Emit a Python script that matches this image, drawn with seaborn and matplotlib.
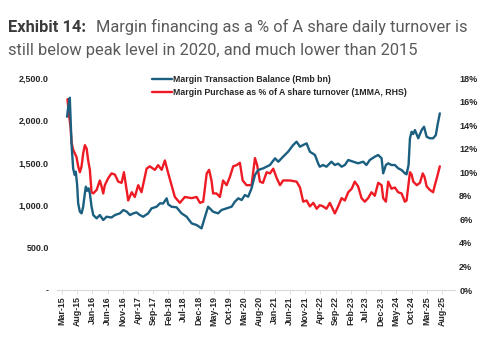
import matplotlib
matplotlib.use("Agg")
import matplotlib.pyplot as plt
import seaborn as sns
import pandas as pd

# Margin transaction balance (Rmb bn, left axis)
balance_dates = [
    "2015-04-23", "2015-05-07", "2015-05-20", "2015-06-07", "2015-06-23", "2015-07-09",
    "2015-07-19", "2015-08-01", "2015-08-12", "2015-08-29", "2015-09-15", "2015-10-01",
    "2015-10-18", "2015-10-28", "2015-11-10", "2015-11-24", "2015-12-07", "2015-12-24",
    "2016-01-10", "2016-02-13", "2016-03-16", "2016-04-19", "2016-05-22", "2016-07-11",
    "2016-08-14", "2016-10-03", "2016-11-06", "2016-12-09", "2017-01-12", "2017-02-14",
    "2017-03-18", "2017-04-21", "2017-05-23", "2017-07-13", "2017-08-16", "2017-10-05",
    "2017-11-08", "2017-12-10", "2018-01-14", "2018-01-30", "2018-03-04", "2018-04-23",
    "2018-06-12", "2018-08-02", "2018-09-21", "2018-11-10", "2018-12-29", "2019-02-02",
    "2019-03-05", "2019-04-24", "2019-06-13", "2019-07-17", "2019-09-06", "2019-10-26",
    "2019-11-28", "2020-01-01", "2020-02-04", "2020-03-07", "2020-04-09", "2020-05-13",
    "2020-06-16", "2020-07-18", "2020-09-07", "2020-11-13", "2021-01-03", "2021-02-05",
    "2021-03-25", "2021-05-14", "2021-07-04", "2021-08-07", "2021-09-10", "2021-10-12",
    "2021-11-15", "2021-12-18", "2022-02-07", "2022-03-10", "2022-03-27", "2022-04-29",
    "2022-06-02", "2022-07-22", "2022-08-25", "2022-09-27", "2022-11-01", "2022-12-03",
    "2023-01-06", "2023-02-25", "2023-04-15", "2023-06-04", "2023-07-07", "2023-08-10",
    "2023-09-29", "2023-11-02", "2023-12-06", "2023-12-22", "2024-01-18", "2024-02-10",
    "2024-03-14", "2024-04-17", "2024-05-20", "2024-06-23", "2024-07-26", "2024-08-12",
    "2024-09-01", "2024-09-15", "2024-10-02", "2024-10-18", "2024-11-04", "2024-12-07",
    "2025-01-10", "2025-02-03", "2025-03-01", "2025-04-02", "2025-05-05", "2025-06-01",
    "2025-06-18", "2025-07-11",
]
balance_bn = [
    2043, 2180, 2267, 1710, 1430, 1356,
    1395, 1250, 1022, 923, 904, 982,
    1140, 1218, 1170, 1199, 1140, 982,
    884, 845, 884, 825, 864, 855,
    884, 904, 943, 925, 884, 904,
    915, 884, 864, 904, 963, 982,
    1022, 1020, 1081, 1010, 982, 975,
    904, 864, 786, 766, 727, 864,
    982, 923, 904, 943, 963, 982,
    1041, 1081, 1061, 1120, 1100, 1199,
    1356, 1415, 1435, 1474, 1553, 1513,
    1572, 1631, 1710, 1749, 1690, 1710,
    1729, 1631, 1592, 1494, 1454, 1474,
    1454, 1513, 1474, 1490, 1454, 1474,
    1533, 1513, 1494, 1513, 1474, 1533,
    1572, 1592, 1553, 1376, 1474, 1494,
    1474, 1474, 1435, 1415, 1376, 1364,
    1474, 1789, 1866, 1840, 1886, 1789,
    1886, 1925, 1807, 1789, 1789, 1827,
    1945, 2083,
]

# Margin purchase as % of A share turnover (1MMA, right axis)
purchase_dates = [
    "2015-04-27", "2015-05-10", "2015-05-27", "2015-06-07", "2015-06-23", "2015-07-09",
    "2015-07-26", "2015-08-12", "2015-08-29", "2015-09-15", "2015-10-01", "2015-10-18",
    "2015-11-05", "2015-11-20", "2015-12-07", "2015-12-24", "2016-01-10", "2016-02-13",
    "2016-03-16", "2016-04-02", "2016-04-19", "2016-05-05", "2016-06-08", "2016-07-11",
    "2016-08-14", "2016-09-16", "2016-10-20", "2016-11-12", "2016-12-02", "2016-12-25",
    "2017-01-29", "2017-03-01", "2017-04-04", "2017-05-07", "2017-06-27", "2017-07-29",
    "2017-09-18", "2017-10-21", "2017-11-25", "2017-12-27", "2018-01-30", "2018-03-04",
    "2018-04-06", "2018-05-26", "2018-07-15", "2018-09-21", "2018-11-10", "2018-12-13",
    "2019-01-15", "2019-02-19", "2019-03-15", "2019-04-08", "2019-04-24", "2019-05-28",
    "2019-07-01", "2019-08-02", "2019-09-06", "2019-10-09", "2019-11-11", "2019-12-15",
    "2020-01-17", "2020-02-14", "2020-03-24", "2020-05-13", "2020-06-16", "2020-07-08",
    "2020-08-05", "2020-09-04", "2020-10-11", "2020-11-13", "2020-12-16", "2021-01-20",
    "2021-02-22", "2021-03-25", "2021-06-01", "2021-08-07", "2021-09-10", "2021-10-12",
    "2021-11-15", "2021-12-18", "2022-01-21", "2022-02-24", "2022-03-27", "2022-04-29",
    "2022-06-02", "2022-07-06", "2022-08-08", "2022-08-25", "2022-09-27", "2022-11-01",
    "2022-12-03", "2023-01-06", "2023-02-10", "2023-03-12", "2023-04-15", "2023-05-19",
    "2023-06-21", "2023-07-24", "2023-08-27", "2023-09-29", "2023-11-02", "2023-12-06",
    "2023-12-22", "2024-01-18", "2024-02-10", "2024-03-14", "2024-04-17", "2024-05-20",
    "2024-06-23", "2024-07-26", "2024-08-12", "2024-09-15", "2024-10-02", "2024-10-18",
    "2024-11-22", "2024-12-24", "2025-01-21", "2025-02-08", "2025-03-01", "2025-04-02",
    "2025-05-05", "2025-05-22", "2025-06-14", "2025-07-11",
]
purchase_pct = [
    16.2, 15.0, 13.9, 12.5, 11.9, 11.6,
    11.3, 10.5, 10.0, 10.5, 11.6, 12.3,
    12.0, 11.0, 10.2, 8.3, 8.2, 8.5,
    9.3, 8.8, 8.2, 8.9, 9.5, 9.9,
    9.8, 9.2, 9.1, 10.0, 8.9, 7.6,
    8.3, 7.9, 8.9, 8.3, 10.3, 10.5,
    10.2, 10.6, 10.2, 11.0, 9.9, 8.9,
    7.9, 7.4, 7.9, 7.8, 7.9, 7.4,
    7.5, 9.9, 10.2, 9.3, 8.2, 8.2,
    7.9, 9.3, 8.9, 9.6, 10.5, 10.6,
    10.8, 9.3, 8.9, 8.9, 11.2, 10.6,
    9.2, 9.1, 10.0, 9.9, 10.3, 9.5,
    8.9, 9.3, 9.3, 9.2, 8.7, 7.5,
    7.6, 7.1, 7.4, 6.9, 7.2, 7.1,
    6.9, 7.4, 6.8, 6.5, 7.1, 7.8,
    7.6, 8.3, 8.6, 9.2, 8.8, 7.8,
    7.5, 7.8, 8.3, 8.0, 9.1, 8.9,
    7.8, 7.5, 9.2, 8.6, 8.7, 8.3,
    8.2, 7.5, 7.6, 10.0, 9.8, 9.2,
    8.9, 9.1, 9.9, 9.6, 8.8, 8.5,
    8.3, 8.9, 9.6, 10.5,
]

left_ticks = [0, 500, 1000, 1500, 2000, 2500]
left_labels = ["-", "500.0", "1,000.0", "1,500.0", "2,000.0", "2,500.0"]
right_ticks = [0, 2, 4, 6, 8, 10, 12, 14, 16, 18]
right_labels = ["0%", "2%", "4%", "6%", "8%", "10%", "12%", "14%", "16%", "18%"]
balance_label = "Margin Transaction Balance (Rmb bn)"
purchase_label = "Margin Purchase as % of A share turnover (1MMA, RHS)"

BLUE = "#1b5f80"
RED = "#ee1b24"
TEXT = "#262626"

sns.set_theme(style="white")
plt.rcParams["font.family"] = ["Liberation Sans", "DejaVu Sans"]

W, H = 491, 341
fig = plt.figure(figsize=(W / 100, H / 100), dpi=100)
ax = fig.add_axes([57 / W, 1 - 290 / H, (455 - 57) / W, (290 - 78) / H])
ax2 = ax.twinx()

bal = pd.DataFrame({"date": pd.to_datetime(balance_dates), "value": balance_bn})
pur = pd.DataFrame({"date": pd.to_datetime(purchase_dates), "value": purchase_pct})

sns.lineplot(data=bal, x="date", y="value", ax=ax, color=BLUE, linewidth=1.7)
sns.lineplot(data=pur, x="date", y="value", ax=ax2, color=RED, linewidth=1.7)
ax.set_zorder(ax2.get_zorder() + 1)
ax.patch.set_visible(False)

ax.set_xlim(pd.Timestamp("2015-01-12"), pd.Timestamp("2025-12-10"))
ax.set_ylim(0, 2500)
ax2.set_ylim(0, 18)

xt = pd.date_range("2015-03-01", "2025-08-01", freq="5MS")
ax.set_xticks(xt)
ax.set_xticklabels([d.strftime("%b-%y") for d in xt], rotation=90,
                   fontsize=6.4, fontweight="bold", color=TEXT)
ax.set_yticks(left_ticks)
ax.set_yticklabels(left_labels, fontsize=6.5, fontweight="bold", color=TEXT)
ax2.set_yticks(right_ticks)
ax2.set_yticklabels(right_labels, fontsize=6.5, fontweight="bold", color=TEXT)

ax.set_xlabel("")
ax.set_ylabel("")
ax2.set_ylabel("")
for a in (ax, ax2):
    for s in ("top", "left", "right", "bottom"):
        a.spines[s].set_visible(False)
    a.grid(False)
ax.spines["bottom"].set_visible(True)
ax.spines["bottom"].set_color("#d9d9d9")
ax.spines["bottom"].set_linewidth(0.8)
ax.tick_params(axis="x", length=3, width=0.6, color="#d9d9d9", pad=1.5, direction="out", bottom=True)
ax.tick_params(axis="y", length=0, pad=6)
ax2.tick_params(axis="y", length=0, pad=3)

handles = [plt.Line2D([], [], color=BLUE, lw=1.7), plt.Line2D([], [], color=RED, lw=1.7)]
leg = ax.legend(handles, [balance_label, purchase_label], loc="upper left",
                bbox_to_anchor=(152 / W, 1 - 75 / H), bbox_transform=fig.transFigure,
                frameon=False, fontsize=6.35, handlelength=2.3, handletextpad=0.1,
                labelspacing=0.5, borderaxespad=0, borderpad=0)
for t in leg.get_texts():
    t.set_fontweight("bold")
    t.set_color(TEXT)

title_font = ["Roboto", "DejaVu Sans"]
fig.text(8 / W, 1 - 31.7 / H, "Exhibit 14:", fontsize=11.8, fontweight="bold",
         color="#3b3b3b", family=title_font, va="baseline", ha="left")
fig.text(96 / W, 1 - 31.7 / H, "Margin financing as a % of A share daily turnover is",
         fontsize=11.8, color="#5a5a5a", family=title_font, va="baseline", ha="left")
fig.text(8 / W, 1 - 54.5 / H, "still below peak level in 2020, and much lower than 2015",
         fontsize=11.8, color="#5a5a5a", family=title_font, va="baseline", ha="left")

fig.savefig("out.png", dpi=100)
